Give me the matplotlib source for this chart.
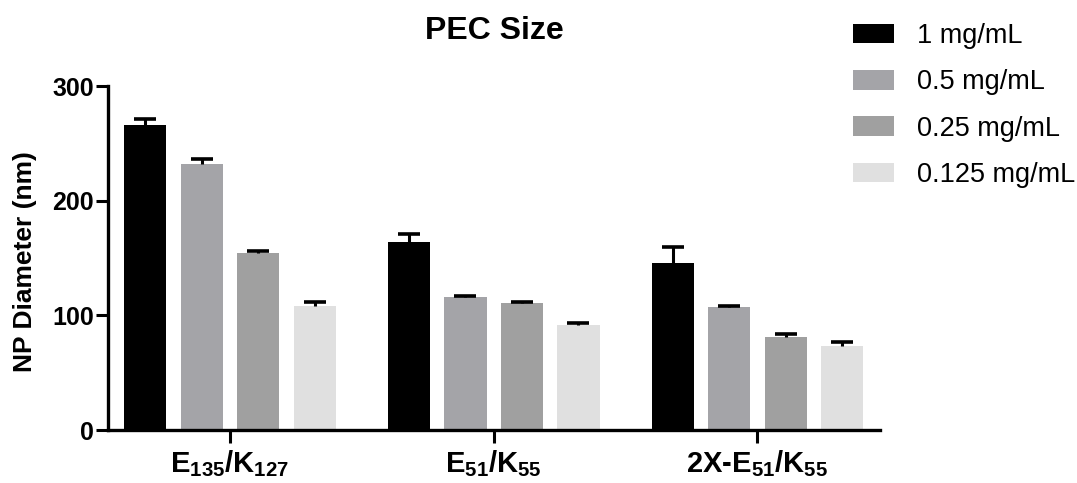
import matplotlib
matplotlib.use('Agg')
import matplotlib.pyplot as plt
import numpy as np

plt.rcParams['font.family'] = ['Liberation Sans', 'DejaVu Sans']
plt.rcParams['mathtext.fontset'] = 'custom'
plt.rcParams['mathtext.rm'] = 'Liberation Sans:bold'
plt.rcParams['mathtext.bf'] = 'Liberation Sans:bold'
plt.rcParams['mathtext.it'] = 'Liberation Sans:bold'

groups = [r'$\mathbf{E_{135}/K_{127}}$', r'$\mathbf{E_{51}/K_{55}}$', r'2X-$\mathbf{E_{51}/K_{55}}$']
series = ['1 mg/mL', '0.5 mg/mL', '0.25 mg/mL', '0.125 mg/mL']
colors = ['#000000', '#a4a4a8', '#a0a0a0', '#e0e0e0']

c1 = [266, 164, 146]
c05 = [232, 116, 107]
c025 = [154, 111, 81]
c0125 = [108, 92, 73]
means = [c1, c05, c025, c0125]

e1 = [5, 7, 14]
e05 = [4, 1, 1.5]
e025 = [2.5, 1, 2.5]
e0125 = [4, 1.5, 3.5]
errs = [e1, e05, e025, e0125]

fig = plt.figure(figsize=(10.77, 4.83), dpi=100)
ax = fig.add_axes([108/1077, 1-430/483, 772/1077, 344/483])

spacing = 4.67
centers = np.arange(len(groups)) * spacing
offsets = [-1.5, -0.5, 0.5, 1.5]
for i in range(4):
    x = centers + offsets[i]
    ax.bar(x, means[i], width=0.75, color=colors[i], label=series[i], zorder=2)
    eb = ax.errorbar(x, means[i], yerr=[np.zeros(3), errs[i]], fmt='none', ecolor='black',
                     elinewidth=2.2, capsize=8, capthick=2.6, zorder=3)
    # only the upper cap, like the original
    eb[1][0].set_visible(False)

ax.set_xlim(-2.16, centers[-1] + 2.17)
ax.set_ylim(0, 300)
ax.set_yticks([0, 100, 200, 300])
ax.set_xticks(centers)
ax.set_xticklabels(groups, fontsize=21, fontweight='bold')
for lab in ax.get_yticklabels():
    lab.set_fontweight('bold')
ax.tick_params(axis='y', labelsize=18, width=2.2, length=9, pad=1)
ax.tick_params(axis='x', width=2.2, length=9, pad=4)
for s in ['top', 'right']:
    ax.spines[s].set_visible(False)
for s in ['left', 'bottom']:
    ax.spines[s].set_linewidth(2.4)

fig.text(494/1077, 1-31/483, 'PEC Size', ha='center', va='center', fontsize=23, fontweight='bold')
fig.text(25/1077, 1-262/483, 'NP Diameter (nm)', ha='center', va='center', rotation=90,
         fontsize=19, fontweight='bold')

ax.legend(loc='upper left', bbox_to_anchor=(853/1077, 1-23/483), bbox_transform=fig.transFigure,
          frameon=False, fontsize=19.5, handlelength=1.52, handleheight=0.74, handletextpad=0.85,
          labelspacing=0.75, borderpad=0, borderaxespad=0)

fig.savefig('out.png', dpi=100)
